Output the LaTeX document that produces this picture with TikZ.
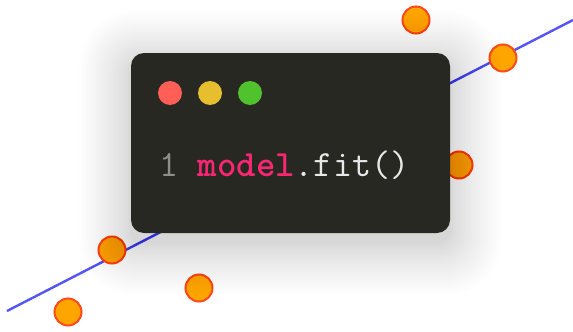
\documentclass[tikz,border=0pt]{standalone}
\usepackage{fontspec}
\definecolor{cardbg}{HTML}{282823}
\definecolor{dotred}{HTML}{FF5F56}
\definecolor{dotyellow}{HTML}{E6BE2E}
\definecolor{dotgreen}{HTML}{50C22D}
\definecolor{kwpink}{HTML}{F92672}
\definecolor{codefg}{HTML}{E8E8E8}
\definecolor{linenum}{HTML}{8F8F8A}
\definecolor{fitblue}{HTML}{5555F5}
\definecolor{ptorange}{HTML}{FFA500}
\definecolor{ptborder}{HTML}{FF4A1C}
\begin{document}
\begin{tikzpicture}[x=1pt,y=-1pt,
  pt/.style={circle,draw=ptborder,line width=2pt,fill=ptorange,minimum size=27pt,inner sep=0pt},
  winbtn/.style={circle,minimum size=24pt,inner sep=0pt},
  code/.style={font=\ttfamily\fontsize{37}{37}\selectfont,anchor=base west,inner sep=0pt}]
\useasboundingbox[fill=white] (0,0) rectangle (573,332);
% regression line
\coordinate (l1) at (7,311);
\coordinate (l2) at (573,20);
\draw[fitblue,line width=2.4pt] (l1) -- (l2);
% data points
\node[pt] (p1) at (416,20) {};
\node[pt] (p2) at (503,58) {};
\node[pt] (p3) at (459,165) {};
\node[pt] (p4) at (112,250) {};
\node[pt] (p5) at (68,312) {};
\node[pt] (p6) at (199,288) {};
% soft shadow
\foreach \i in {1,...,40}{
  \pgfmathsetmacro{\e}{52*(\i/40)^1.3}
  \pgfmathsetmacro{\r}{13+0.8*\e}
  \fill[black,opacity=0.0045,rounded corners=\r pt] (131-\e,63-\e) rectangle (450+\e,243+\e);
}
% card
\node[fill=cardbg,rounded corners=13pt,minimum width=319pt,minimum height=180pt,inner sep=0pt] (card) at (290.5,143) {};
\node[winbtn,fill=dotred] (b1) at (170,93) {};
\node[winbtn,fill=dotyellow] (b2) at (210,93) {};
\node[winbtn,fill=dotgreen] (b3) at (250,93) {};
\node[code] (code) at (159.5,176) {\textcolor{linenum}{1} \textcolor{kwpink}{\bfseries model}\textcolor{codefg}{.fit()}};
\end{tikzpicture}
\end{document}
